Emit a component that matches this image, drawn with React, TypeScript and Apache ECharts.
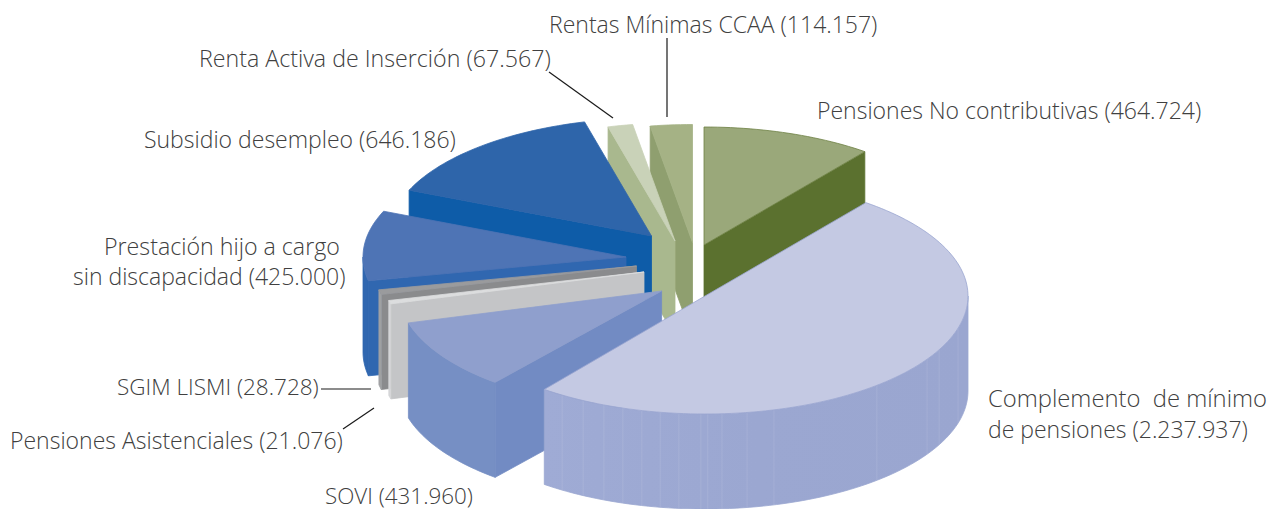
import React, { useEffect, useRef } from "react";
import * as echarts from "echarts";

const categories = [
  "Pensiones No contributivas",
  "Complemento de mínimo de pensiones",
  "SOVI",
  "Pensiones Asistenciales",
  "SGIM LISMI",
  "Prestación hijo a cargo sin discapacidad",
  "Subsidio desempleo",
  "Renta Activa de Inserción",
  "Rentas Mínimas CCAA",
];
const values = [464724, 2237937, 431960, 21076, 28728, 425000, 646186, 67567, 114157];

// Painter's order: back slices first, the large front slice last
const drawOrder = [0, 8, 7, 6, 5, 4, 3, 2, 1];

// Exploded displacement of each slice's apex, in pixels
const explode = [
  [-1, -52], [0, -1], [-43.4, -6], [-61, -25], [-68.5, -31],
  [-79, -40], [-53.5, -61], [-30, -56], [-12.5, -54.5],
];
// Small trim of a slice's far edge, standing in for the original's perspective (degrees)
const endTrim = [0, -1.6, 0, 0, 0, 0, 0, 0, 0];
const topColors = ["#9aa87a", "#c4c9e3", "#8f9fcd", "#dcddde", "#9a9b9d", "#4e74b5", "#2e65aa", "#c9d2b8", "#a5b285"];
const cutColors = ["#5b712f", "#9ba7d1", "#728bc3", "#c4c5c7", "#8a8b8d", "#3067b0", "#0e5ca8", "#a9b88e", "#8f9f6f"];
const wallColors = ["#5b712f", "#9ba7d1", "#768fc4", "#d5d6d8", "#a0a1a3", "#3067b0", "#0e5ca8", "#a9b88e", "#8f9f6f"];
const edgeColors = ["#6f8245", "#9aa6d0", "#8f9fcd", "#dcddde", "#9a9b9d", "#4e74b5", "#2e65aa", "#c9d2b8", "#a5b285"];

// Faint vertical facet seams on the large slice's wall (degrees clockwise from the top)
const facetAngles = [105.8, 117.1, 122.4, 139.2, 164.8, 170.8, 176.3, 179.4, 180.9, 185.7, 189.8, 193.9, 198.2, 202.6, 207.6, 212.9];
const facetSlice = 1;

const labelFont = '"Open Sans", sans-serif';
const labels = [
  { text: "Rentas Mínimas CCAA (114.157)", x: 549, y: 24, size: 23 },
  { text: "Renta Activa de Inserción (67.567)", x: 199, y: 58, size: 23.2 },
  { text: "Pensiones No contributivas (464.724)", x: 817, y: 110, size: 23 },
  { text: "Subsidio desempleo (646.186)", x: 144, y: 139, size: 23 },
  { text: "Prestación hijo a cargo", x: 104, y: 246, size: 23.2 },
  { text: "sin discapacidad (425.000)", x: 73, y: 276, size: 23 },
  { text: "SGIM LISMI (28.728)", x: 117, y: 386, size: 22.5 },
  { text: "Pensiones Asistenciales (21.076)", x: 10, y: 440, size: 23 },
  { text: "SOVI (431.960)", x: 325, y: 495, size: 22.4 },
  { text: "Complemento  de mínimo", x: 988, y: 397.5, size: 23.8 },
  { text: "de pensiones (2.237.937)", x: 988, y: 428.5, size: 23 },
];
const leaders = [
  [549, 72, 613, 118],
  [667, 38, 667, 117],
  [321, 389, 371, 389],
  [343, 429, 374, 408],
];

const CX = 705;
const CY = 297;
const RX = 263;
const RY = 118;
const DEPTH = 95;
const total = values.reduce((a, b) => a + b, 0);
const starts: number[] = [];
values.reduce((acc, v, i) => {
  starts[i] = acc;
  return acc + (v / total) * 360;
}, 0);

const rad = (d: number) => (d * Math.PI) / 180;

function renderSlice(_params: any, api: any) {
  const i = api.value(1);
  const sweep = (api.value(0) / total) * 360;
  const a = starts[i];
  const b = a + sweep + endTrim[i];
  const ax = CX + explode[i][0];
  const ay = CY + explode[i][1];
  const pt = (d: number): number[] => [ax + RX * Math.sin(rad(d)), ay - RY * Math.cos(rad(d))];
  const down = (p: number[]): number[] => [p[0], p[1] + DEPTH];
  const arc = (p: number, q: number): number[][] => {
    const n = Math.max(2, Math.ceil((q - p) / 1.5));
    const out: number[][] = [];
    for (let k = 0; k <= n; k++) out.push(pt(p + ((q - p) * k) / n));
    return out;
  };
  const children: any[] = [];
  const poly = (points: number[][], fill: any, stroke: string, lineWidth = 0.8) =>
    children.push({ type: "polygon", shape: { points }, style: { fill, stroke, lineWidth } });
  const apex = [ax, ay];

  // Radial cut faces that turn toward the viewer
  if (Math.sin(rad(a)) < 0) {
    const o = pt(a);
    poly([apex, o, down(o), down(apex)], cutColors[i], cutColors[i]);
  }
  if (Math.sin(rad(b)) > 0) {
    const o = pt(b);
    poly([apex, o, down(o), down(apex)], cutColors[i], cutColors[i]);
  }
  // Outer wall: only the front half of the rim is visible
  const wa = Math.max(a, 90);
  const wb = Math.min(b, 270);
  if (wb > wa) {
    const rim = arc(wa, wb);
    const fill =
      i === facetSlice
        ? new echarts.graphic.LinearGradient(0, 0, 1, 0, [
            { offset: 0, color: "#9fabd5" },
            { offset: 0.5, color: "#9ba7d1" },
            { offset: 1, color: "#9aa6d0" },
          ])
        : wallColors[i];
    poly([...rim, ...rim.slice().reverse().map(down)], fill, wallColors[i]);
    if (i === facetSlice) {
      facetAngles.forEach((d) => {
        const p = pt(d);
        const q = down(p);
        children.push({
          type: "line",
          shape: { x1: p[0], y1: p[1], x2: q[0], y2: q[1] },
          style: { stroke: "rgba(255,255,255,0.1)", lineWidth: 1 },
        });
      });
    }
  }
  // Top face
  poly([apex, ...arc(a, b)], topColors[i], edgeColors[i]);
  return { type: "group", children };
}

export default function App() {
  const ref = useRef<HTMLDivElement>(null);
  useEffect(() => {
    if (!ref.current) return;
    const chart = echarts.init(ref.current, undefined, { renderer: "svg" });
    chart.setOption({
      animation: false,
      backgroundColor: "#ffffff",
      series: [
        {
          type: "custom",
          coordinateSystem: "none",
          silent: true,
          renderItem: renderSlice,
          data: drawOrder.map((i) => ({ name: categories[i], value: [values[i], i] })),
        },
      ],
      graphic: [
        ...leaders.map((l) => ({
          type: "line",
          shape: { x1: l[0], y1: l[1], x2: l[2], y2: l[3] },
          style: { stroke: "#1a1a1a", lineWidth: 1.2 },
          silent: true,
        })),
        ...labels.map((l) => ({
          type: "text",
          x: l.x,
          y: l.y,
          silent: true,
          style: {
            text: l.text,
            fill: "#404040",
            font: `300 ${l.size}px ${labelFont}`,
            textAlign: "left",
            textVerticalAlign: "middle",
          },
        })),
      ],
    });
    return () => chart.dispose();
  }, []);
  return (
    <div
      ref={ref}
      style={{ position: "absolute", left: 0, top: 0, width: 1284, height: 509 }}
    />
  );
}
